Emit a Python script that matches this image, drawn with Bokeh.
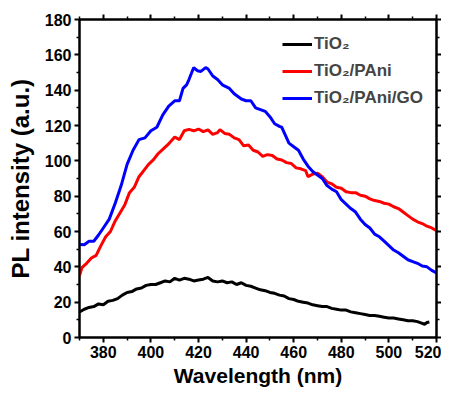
from bokeh.plotting import figure
from bokeh.models import LinearAxis, FixedTicker, Range1d, Legend, LegendItem
from bokeh.embed import file_html
from bokeh.resources import INLINE

# ---- data ----
x_tio2 = [370, 372, 374, 376, 378, 380, 382, 384, 386, 388, 390, 392, 394, 396, 398, 400, 402, 404, 406, 408,
          410, 412, 414, 416, 418, 420, 422, 424, 426, 428, 430, 432, 434, 436, 438, 440, 442, 444, 446, 448,
          450, 452, 454, 456, 458, 460, 462, 464, 466, 468, 470, 472, 474, 476, 478, 480, 482, 484, 486, 488,
          490, 492, 494, 496, 498, 500, 502, 504, 506, 508, 510, 512, 514, 515, 516, 517]
y_tio2 = [14.5, 16, 17, 17.5, 19, 18.5, 20.5, 21, 22, 24, 25.5, 26, 27.5, 28, 29.5, 30, 30, 31, 32, 31.5,
          33.5, 32.5, 33.5, 33, 32, 32.5, 33, 34, 32, 31.5, 32, 31, 31.5, 30, 31, 29.5, 29, 28, 27, 26.5,
          25.5, 25, 24, 23.5, 22, 21.5, 20.5, 20, 19.5, 18.5, 18, 17.5, 17.5, 16.5, 16, 15.5, 15.5, 14.5, 14, 13.5,
          13, 12.5, 12.5, 12, 11.5, 11, 11, 10.5, 10, 9.5, 9.5, 9, 8, 7.5, 8.5, 8.8]

x_pani = [370, 371, 373, 375, 377, 379, 381, 383, 385, 387, 389, 391, 393, 395, 397, 399, 401, 403, 405, 407,
          409, 410, 412, 414, 416, 418, 420, 422, 424, 426, 428, 429, 431, 433, 435, 437, 439, 441, 443, 445,
          447, 449, 451, 453, 455, 457, 459, 461, 463, 465, 466, 468, 470, 472, 474, 476, 478, 480, 482, 484,
          486, 488, 490, 492, 494, 496, 498, 500, 502, 504, 506, 508, 510, 512, 514, 516, 518, 520]
y_pani = [35, 39.5, 42, 45, 46.5, 52, 57, 60, 66, 70.5, 75, 82, 85, 91, 94.5, 98, 100.5, 104, 106.5, 109,
          112, 113.5, 112, 117, 117.8, 117, 118, 116.5, 117.5, 115, 116, 117.7, 115.5, 115, 113, 112, 108.5, 109, 106, 105,
          102.5, 103.5, 103, 101, 100.5, 99, 98.5, 96, 95.5, 94.5, 91, 92.5, 93, 91, 88, 87, 85, 84.5, 82.5, 82,
          82, 80.5, 80, 78.5, 77.5, 77, 76, 75.5, 74, 73, 71, 69, 67, 65.5, 64.5, 63, 62, 60.5]

x_go = [370, 372, 374, 376, 378, 380, 382.5, 385, 387.5, 390, 392.5, 395, 397.5, 400, 402.5, 405, 407.5, 410, 412, 413.5,
        415, 416, 418, 419.5, 421, 423, 424, 426, 428, 430, 433, 435, 438, 440, 442, 444, 446, 448, 450, 452,
        454, 455, 456, 458, 460, 462, 464, 466, 468, 470, 472, 474, 476, 478, 480, 482, 484, 486, 488, 490,
        492, 494, 496, 498, 500, 502, 504, 506, 508, 510, 512, 514, 516, 518, 520]
y_go = [52.6, 52.5, 54.5, 54.5, 58, 62, 67, 76, 86, 98, 106, 112, 113, 117, 119, 126, 131, 134, 134, 141,
        143, 146, 152.8, 151, 150.6, 152.8, 152, 148, 146, 143, 141, 138, 135, 134, 134, 130, 129, 128, 125, 121,
        119.5, 119, 116, 110, 108, 106, 101, 97, 94, 92, 90, 86, 84, 82.5, 78, 75.5, 73, 71, 67, 64,
        62, 58.5, 57, 54.5, 52, 49.5, 48, 46, 44, 43, 42, 40.5, 40, 38, 36.6]

x_ticks = [380, 400, 420, 440, 460, 480, 500, 520]
x_minor = [370, 390, 410, 430, 450, 470, 490, 510]
y_ticks = [0, 20, 40, 60, 80, 100, 120, 140, 160, 180]
y_minor = [10, 30, 50, 70, 90, 110, 130, 150, 170]

labels = ["TiO\u2082", "TiO\u2082/PAni", "TiO\u2082/PAni/GO"]
colors = ["black", "red", "blue"]

FONT = "Liberation Sans"

p = figure(width=441, height=389, output_backend="svg", toolbar_location=None,
           x_range=Range1d(370, 520), y_range=Range1d(0, 180),
           min_border_left=79, min_border_right=5, min_border_top=19, min_border_bottom=52,
           x_axis_label="Wavelength (nm)", y_axis_label="PL intensity (a.u.)")
p.xgrid.visible = False
p.ygrid.visible = False
p.outline_line_color = "black"
p.outline_line_width = 2

bottom_ax = p.below[0]
left_ax = p.left[0]

xt = FixedTicker(ticks=x_ticks, minor_ticks=x_minor)
yt = FixedTicker(ticks=y_ticks, minor_ticks=y_minor)
bottom_ax.ticker = xt
left_ax.ticker = yt

top_ax = LinearAxis(ticker=xt)
right_ax = LinearAxis(ticker=yt)
p.add_layout(top_ax, "above")
p.add_layout(right_ax, "right")

for ax in [bottom_ax, left_ax, top_ax, right_ax]:
    ax.axis_line_width = 2
    ax.major_tick_line_width = 2
    ax.minor_tick_line_width = 1.5
    ax.major_tick_out = 5
    ax.major_tick_in = 0
    ax.minor_tick_out = 3
    ax.minor_tick_in = 0
    ax.major_label_text_font = FONT
    ax.major_label_text_font_style = "bold"
    ax.major_label_text_font_size = "16px"
    ax.major_label_text_color = "black"
    ax.axis_label_text_font = FONT
    ax.axis_label_text_font_style = "bold"
    ax.axis_label_text_color = "black"

for ax in [top_ax, right_ax]:
    ax.major_label_text_font_size = "0px"
    ax.major_label_text_color = None
    ax.major_label_standoff = 0

bottom_ax.axis_label_text_font_size = "21px"
left_ax.axis_label_text_font_size = "24px"
bottom_ax.major_label_standoff = 3
bottom_ax.axis_label_standoff = 3
left_ax.major_label_standoff = 3
left_ax.axis_label_standoff = 8

r1 = p.line(x_tio2, y_tio2, line_color=colors[0], line_width=3)
r2 = p.line(x_pani, y_pani, line_color=colors[1], line_width=3)
r3 = p.line(x_go, y_go, line_color=colors[2], line_width=3)

legend = Legend(items=[LegendItem(label=labels[0], renderers=[r1]),
                       LegendItem(label=labels[1], renderers=[r2]),
                       LegendItem(label=labels[2], renderers=[r3])],
                location=(198, 224))
legend.label_text_font = FONT
legend.label_text_font_style = "bold"
legend.label_text_font_size = "17px"
legend.glyph_width = 30
legend.glyph_height = 20
legend.label_height = 20
legend.spacing = 7
legend.padding = 5
legend.margin = 0
legend.label_standoff = 2
legend.border_line_alpha = 0
legend.background_fill_alpha = 0
p.add_layout(legend, "center")

open("out.html", "w").write(file_html(p, INLINE))
